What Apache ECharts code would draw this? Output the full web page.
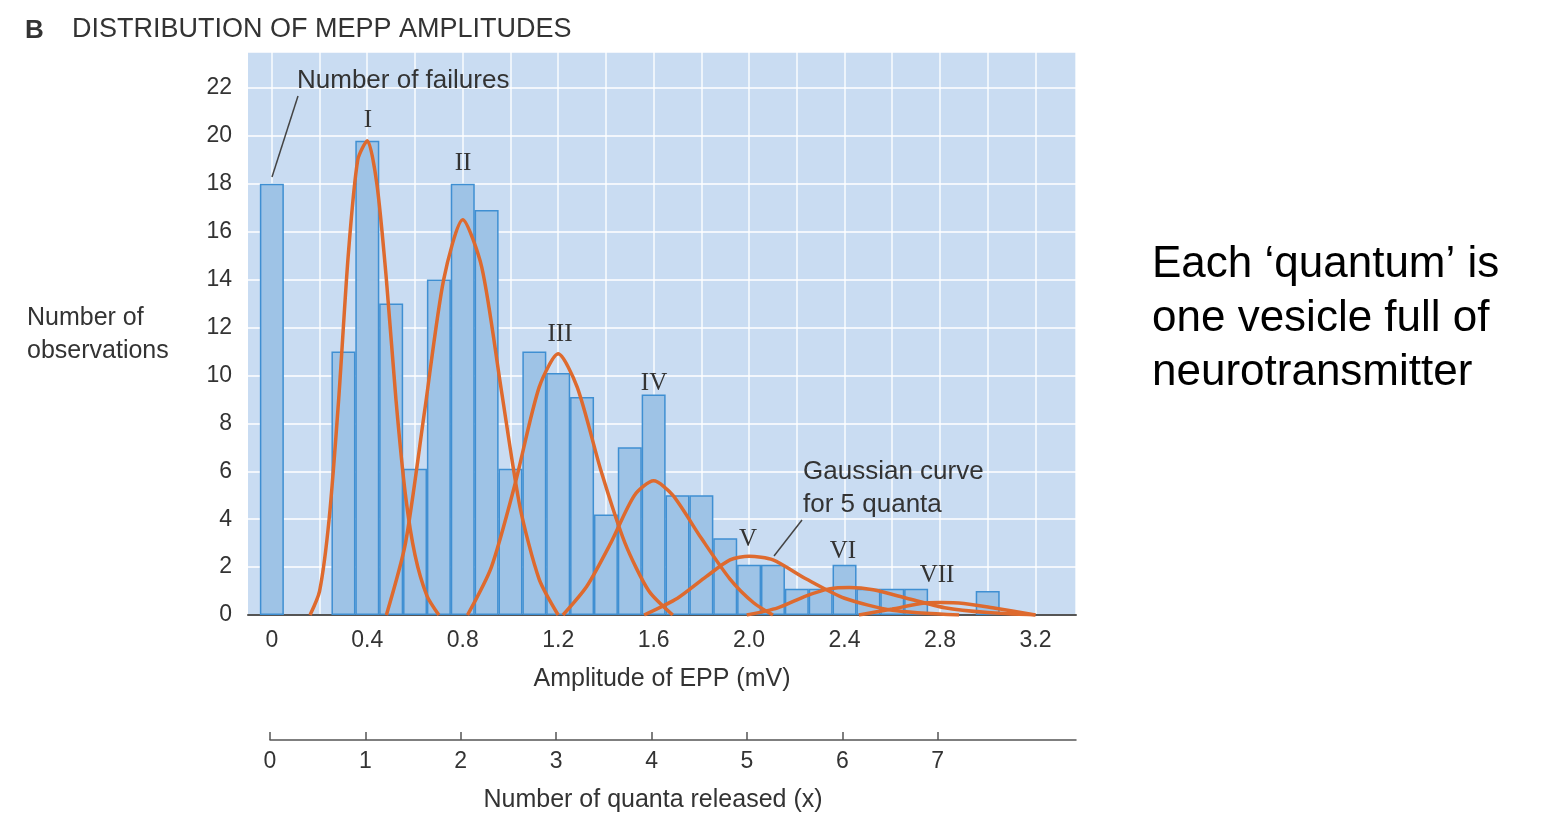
<!DOCTYPE html>
<html><head><meta charset="utf-8">
<script src="https://cdn.jsdelivr.net/npm/echarts@6/dist/echarts.min.js"></script>
<style>html,body{margin:0;background:#fff}#c{width:1541px;height:825px}</style>
</head><body><div id="c"></div>
<script>
// histogram bins (mV, bin width 0.1) and counts
var binCenters = [0,0.1,0.2,0.3,0.4,0.5,0.6,0.7,0.8,0.9,1.0,1.1,1.2,1.3,1.4,1.5,1.6,1.7,1.8,1.9,2.0,2.1,2.2,2.3,2.4,2.5,2.6,2.7,2.8,2.9,3.0];
var counts = [18,0,0,11,19.8,13,6.1,14,18,16.9,6.1,11,10.1,9.1,4.2,7,9.2,5,5,3.2,2.1,2.1,1.1,1.1,2.1,1.1,1.1,1.1,0,0,1];
var ampTicks = [0,0.4,0.8,1.2,1.6,2.0,2.4,2.8,3.2];
var quantaTicks = [0,1,2,3,4,5,6,7];
var yTicks = [0,2,4,6,8,10,12,14,16,18,20,22];
// fitted gaussian curves
var curveI = [[0.16,0],[0.2,1],[0.24,4],[0.28,9],[0.32,15],[0.36,19],[0.4,19.8],[0.44,18],[0.48,14],[0.52,9],[0.56,5],[0.6,2.5],[0.65,0.8],[0.70,0]];
var curveII = [[0.48,0],[0.56,3],[0.64,8.5],[0.72,14],[0.8,16.5],[0.88,14.5],[0.96,9.5],[1.04,4.5],[1.12,1.5],[1.2,0]];
var curveIII = [[0.82,0],[0.92,2],[1.02,5.5],[1.12,9.5],[1.2,10.9],[1.28,9.5],[1.38,6],[1.48,3],[1.58,1],[1.68,0]];
var curveIV = [[1.22,0],[1.32,1.2],[1.42,3],[1.52,5],[1.6,5.6],[1.68,5],[1.8,3.2],[1.92,1.5],[2.02,0.5],[2.1,0]];
var curveV = [[1.56,0],[1.7,0.7],[1.82,1.6],[1.92,2.3],[2.0,2.45],[2.1,2.3],[2.24,1.5],[2.4,0.7],[2.6,0.2],[2.88,0]];
var curveVI = [[1.99,0],[2.12,0.3],[2.24,0.8],[2.34,1.1],[2.42,1.15],[2.52,1.05],[2.66,0.7],[2.82,0.3],[3.0,0.1],[3.2,0]];
var curveVII = [[2.46,0],[2.6,0.25],[2.72,0.48],[2.8,0.52],[2.9,0.48],[3.02,0.3],[3.2,0]];

var font = 'Liberation Sans, Arial, sans-serif';
var orange = '#de6a2e';
var chart = echarts.init(document.getElementById('c'));

var barData = binCenters.map(function (x, i) { return [x, counts[i]]; });
var curves = [curveI, curveII, curveIII, curveIV, curveV, curveVI, curveVII];

var series = [{
    type: 'bar', data: barData.filter(function (d) { return d[1] > 0; }), z: 2,
    barWidth: 24,
    itemStyle: { color: '#9ec3e6', borderColor: '#3f8fd2', borderWidth: 1.5 }
}];
curves.forEach(function (c) {
    series.push({
        type: 'line', data: c, smooth: 0.25, symbol: 'none', z: 3,
        lineStyle: { color: orange, width: 3.5 }
    });
});

function roman(t, x, y) {
    return { type: 'text', x: x, y: y, z: 100, style: { text: t, font: '25px "Liberation Serif", serif', fill: '#333', align: 'center', textAlign: 'center' } };
}
function txt(t, x, y, size, extra) {
    var s = { text: t, font: size + 'px ' + font, fill: '#333', lineHeight: 33 };
    if (extra) Object.assign(s, extra);
    return { type: 'text', x: x, y: y, z: 100, style: s };
}

chart.setOption({
    animation: false,
    grid: [
        { left: 248, right: 465, top: 52, bottom: 210 },
        { left: 270, right: 465, top: 740, height: 0 },
        // grid shifted by one bin so vertical lines fall on multiples of 0.2
        { left: 224, right: 465, top: 52, bottom: 210 }
    ],
    xAxis: [{
        gridIndex: 0, type: 'value', min: -0.1, max: 3.37,
        splitLine: { show: false },
        axisLine: { lineStyle: { color: '#555', width: 2 } },
        axisTick: { show: false },
        axisLabel: {
            customValues: ampTicks, color: '#333', fontSize: 23, fontFamily: font, margin: 14,
            formatter: function (v) { return v === 0 ? '0' : v.toFixed(1); }
        },
        name: 'Amplitude of EPP (mV)', nameLocation: 'middle', nameGap: 52,
        nameTextStyle: { color: '#333', fontSize: 25, fontFamily: font }
    }, {
        gridIndex: 1, type: 'value', min: 0, max: 8.45,
        splitLine: { show: false },
        axisLine: { onZero: false, lineStyle: { color: '#555', width: 1.5 } },
        axisTick: { customValues: quantaTicks, length: 8, inside: true, lineStyle: { color: '#555', width: 1.5 } },
        axisLabel: { customValues: quantaTicks, color: '#333', fontSize: 23, fontFamily: font, margin: 10 },
        name: 'Number of quanta released (x)', nameLocation: 'middle', nameGap: 48,
        nameTextStyle: { color: '#333', fontSize: 25, fontFamily: font, padding: [0, 0, 0, -40] }
    }, {
        gridIndex: 2, type: 'value', min: -0.2, max: 3.37, interval: 0.2,
        axisLine: { show: false }, axisTick: { show: false }, axisLabel: { show: false },
        splitLine: { lineStyle: { color: '#fff', width: 1.5, opacity: 0.9 } }
    }],
    yAxis: [{
        gridIndex: 0, type: 'value', min: 0, max: 23.5, interval: 2,
        axisLine: { show: false }, axisTick: { show: false },
        splitLine: { lineStyle: { color: '#fff', width: 1.5 } },
        axisLabel: { customValues: yTicks, color: '#333', fontSize: 23, fontFamily: font, margin: 16 }
    }, {
        gridIndex: 1, type: 'value', show: false
    }, {
        gridIndex: 2, type: 'value', show: false
    }],
    series: series,
    graphic: [
        { type: 'rect', z: -10, shape: { x: 248, y: 52, width: 828, height: 563 }, style: { fill: '#c9dcf2' } },
        txt('B', 25, 14, 26, { font: 'bold 26px ' + font }),
        txt('DISTRIBUTION OF MEPP AMPLITUDES', 72, 13, 27),
        txt('Number of\nobservations', 27, 302, 25),
        txt('Number of failures', 297, 64, 26),
        { type: 'line', z: 100, shape: { x1: 298, y1: 96, x2: 272, y2: 177 }, style: { stroke: '#444', lineWidth: 1.5 } },
        txt('Gaussian curve\nfor 5 quanta', 803, 455, 26),
        { type: 'line', z: 100, shape: { x1: 802, y1: 520, x2: 774, y2: 556 }, style: { stroke: '#444', lineWidth: 1.5 } },
        roman('I', 368, 108), roman('II', 463, 151), roman('III', 560, 322), roman('IV', 654, 371),
        roman('V', 748, 527), roman('VI', 843, 539), roman('VII', 937, 563),
        { type: 'text', x: 1152, y: 238, z: 100, style: { text: 'Each \u2018quantum\u2019 is\none vesicle full of\nneurotransmitter', font: '44px ' + font, fill: '#000', lineHeight: 54 } }
    ]
});
</script></body></html>
